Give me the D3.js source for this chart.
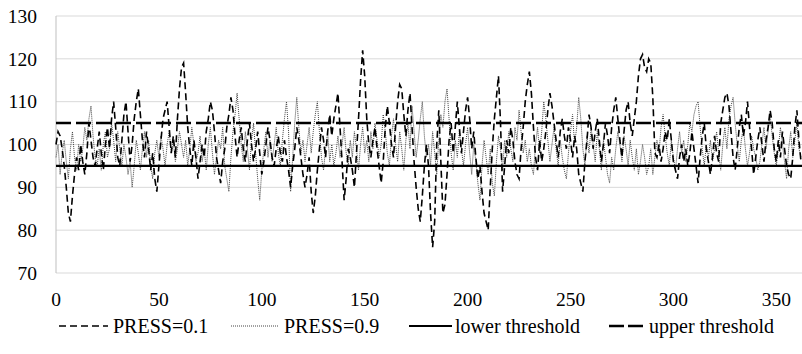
<!DOCTYPE html>
<html>
<head>
<meta charset="utf-8">
<script src="https://cdn.jsdelivr.net/npm/d3@7"></script>
<style>
  body { margin: 0; background: #fff; }
</style>
</head>
<body>
<svg id="chart" width="802" height="354"></svg>
<script>
// PRESS=0.1 (dashed), one value per day
var press01 = [
  100, 103, 102, 99, 95, 90, 84, 82, 88, 93,
  97, 94, 100, 96, 93, 98, 105, 101, 97, 95,
  99, 103, 98, 94, 100, 104, 99, 106, 110, 104,
  97, 95, 101, 107, 110, 103, 96, 100, 106, 110,
  113, 107, 101, 97, 103, 99, 94, 98, 92, 89,
  95, 101, 106, 108, 110, 104, 98, 102, 97, 106,
  113, 118, 119, 112, 104, 99, 95, 101, 97, 92,
  96, 100, 97, 103, 106, 110, 108, 103, 97, 94,
  91, 96, 99, 104, 107, 111, 108, 102, 97, 101,
  104, 99, 96, 101, 105, 100, 96, 99, 103, 98,
  93, 96, 100, 104, 101, 97, 95, 99, 102, 98,
  96, 101, 97, 94, 90, 95, 99, 104, 101, 97,
  93, 90, 93, 97, 89, 84, 88, 94, 99, 104,
  101, 97, 103, 107, 102, 106, 109, 112, 104, 96,
  87, 92, 99, 97, 94, 90, 98, 106, 115, 122,
  116, 106, 100, 97, 101, 104, 99, 95, 91, 96,
  104, 109, 105, 100, 97, 104, 110, 114, 113, 107,
  102, 108, 112, 104, 96, 90, 85, 82, 88, 95,
  100, 95, 84, 76, 82, 100, 108, 96, 84, 86,
  93, 101, 105, 98, 104, 110, 104, 98, 103, 108,
  111, 106, 99, 103, 97, 92, 95, 89, 84, 82,
  80, 90, 99, 106, 111, 116, 105, 89, 95, 101,
  98, 104, 101, 96, 93, 92, 99, 104, 110, 114,
  117, 112, 104, 97, 94, 101, 96, 99, 103, 108,
  112, 109, 105, 101, 97, 103, 106, 102, 99, 104,
  101, 97, 102, 99, 93, 91, 89, 96, 101, 107,
  104, 99, 103, 106, 101, 96, 100, 105, 102, 98,
  104, 108, 111, 106, 101, 97, 103, 108, 110, 105,
  102, 106, 110, 116, 120, 121, 118, 117, 120, 119,
  111, 98, 97, 100, 96, 99, 103, 101, 106, 101,
  96, 94, 92, 97, 100, 96, 99, 95, 98, 103,
  99, 95, 91, 97, 102, 105, 99, 96, 93, 97,
  102, 98, 96, 105, 108, 111, 112, 109, 103, 97,
  94, 99, 104, 107, 102, 105, 110, 104, 99, 93,
  97, 101, 104, 100, 96, 101, 104, 108, 105, 99,
  96, 101, 97, 103, 99, 95, 93, 92, 97, 104,
  108, 101, 96
];
// PRESS=0.9 (dotted)
var press09 = [
  97, 100, 93, 98, 101, 96, 92, 99, 103, 97,
  94, 100, 96, 99, 104, 101, 106, 109, 102, 97,
  95, 99, 94, 100, 103, 97, 99, 105, 101, 96,
  103, 99, 95, 100, 97, 93, 96, 90, 95, 101,
  98, 94, 99, 103, 97, 101, 95, 92, 98, 101,
  97, 102, 99, 95, 100, 103, 98, 101, 96, 99,
  103, 100, 97, 101, 95, 99, 104, 100, 96, 98,
  102, 96, 99, 94, 100, 104, 98, 93, 97, 101,
  99, 104, 95, 92, 89, 97, 103, 107, 112, 106,
  100, 96, 103, 99, 94, 101, 105, 98, 92, 87,
  94, 99, 103, 97, 101, 96, 100, 104, 98, 95,
  101, 106, 110, 103, 89, 97, 105, 111, 104, 98,
  101, 96, 100, 104, 98, 103, 107, 110, 103, 97,
  94, 99, 103, 96, 100, 95, 98, 102, 97, 100,
  104, 98, 95, 101, 97, 103, 99, 94, 100, 104,
  98, 101, 96, 103, 99, 105, 101, 97, 100, 107,
  103, 98, 95, 102, 106, 100, 96, 103, 99, 94,
  101, 105, 99, 109, 103, 97, 101, 106, 110, 102,
  97, 100, 95, 103, 98, 93, 101, 107, 104, 110,
  113, 106, 98, 94, 101, 97, 103, 99, 95, 100,
  104, 98, 93, 100, 96, 91, 87, 95, 101, 97,
  93, 99, 91, 88, 96, 102, 99, 94, 101, 97,
  103, 99, 96, 104, 101, 108, 103, 98, 101, 96,
  99, 95, 93, 100, 104, 98, 103, 110, 106, 101,
  96, 100, 104, 99, 95, 101, 97, 94, 92, 98,
  103, 107, 100, 104, 111, 106, 99, 95, 102, 98,
  104, 100, 96, 103, 99, 94, 101, 97, 93, 91,
  97, 94, 99, 103, 100, 96, 102, 99, 95, 101,
  97, 94, 99, 93, 96, 100, 97, 93, 95, 99,
  93, 97, 101, 98, 104, 107, 102, 98, 95, 101,
  97, 94, 99, 103, 98, 101, 96, 100, 105, 103,
  107, 109, 110, 104, 99, 95, 100, 97, 101, 96,
  99, 103, 98, 94, 100, 104, 99, 106, 109, 111,
  105, 100, 96, 101, 104, 99, 95, 98, 102, 99,
  97, 94, 96, 100, 104, 99, 103, 107, 102, 98,
  95, 99, 104, 100, 96, 92, 99, 103, 97, 101,
  105, 99, 97
];
var lowerThreshold = 95;
var upperThreshold = 105;
var yTicks = [70, 80, 90, 100, 110, 120, 130];
var xTicks = [0, 50, 100, 150, 200, 250, 300, 350];
var legendLabels = ["PRESS=0.1", "PRESS=0.9", "lower threshold", "upper threshold"];

var serif = "'Liberation Serif', 'Times New Roman', 'DejaVu Serif', serif";

var svg = d3.select("#chart");
var x = d3.scaleLinear().domain([0, 362]).range([56, 801]);
var y = d3.scaleLinear().domain([70, 130]).range([273, 16]);

// gridlines
svg.append("g").selectAll("line")
    .data(yTicks)
  .enter().append("line")
    .attr("x1", x(0)).attr("x2", 802)
    .attr("y1", function(d) { return y(d); })
    .attr("y2", function(d) { return y(d); })
    .attr("stroke", "#d9d9d9").attr("stroke-width", 1);

// left axis line
svg.append("line")
    .attr("x1", x(0)).attr("x2", x(0))
    .attr("y1", y(130)).attr("y2", y(70))
    .attr("stroke", "#bfbfbf");

// y tick labels
svg.append("g").selectAll("text")
    .data(yTicks)
  .enter().append("text")
    .attr("x", 37)
    .attr("y", function(d) { return y(d); })
    .attr("dy", "0.35em")
    .attr("text-anchor", "end")
    .attr("font-family", serif)
    .attr("font-size", "19.5px")
    .text(function(d) { return d; });

// x tick labels
svg.append("g").selectAll("text")
    .data(xTicks)
  .enter().append("text")
    .attr("x", function(d) { return x(d); })
    .attr("y", 299)
    .attr("dy", "0.35em")
    .attr("text-anchor", "middle")
    .attr("font-family", serif)
    .attr("font-size", "19.5px")
    .text(function(d) { return d; });

var line = d3.line()
    .x(function(d, i) { return x(i); })
    .y(function(d) { return y(d); });

var plot = svg.append("g");

plot.append("path")
    .datum(press09)
    .attr("d", line)
    .attr("fill", "none")
    .attr("stroke", "#444")
    .attr("stroke-width", 1)
    .attr("stroke-dasharray", "1,1");

plot.append("path")
    .datum(press01)
    .attr("d", line)
    .attr("fill", "none")
    .attr("stroke", "#000")
    .attr("stroke-width", 1.6)
    .attr("stroke-dasharray", "7,4");

plot.append("line")
    .attr("x1", x(0)).attr("x2", 802)
    .attr("y1", y(lowerThreshold)).attr("y2", y(lowerThreshold))
    .attr("stroke", "#000").attr("stroke-width", 2.2);

plot.append("line")
    .attr("x1", x(0)).attr("x2", 802)
    .attr("y1", y(upperThreshold)).attr("y2", y(upperThreshold))
    .attr("stroke", "#000").attr("stroke-width", 2.5)
    .attr("stroke-dasharray", "15,5");

// legend
var legendItems = [
  {sx: 59, ex: 108, tx: 113, dash: "7,4", w: 1.5, color: "#000"},
  {sx: 231, ex: 278, tx: 284, dash: "1,1", w: 1, color: "#444"},
  {sx: 409, ex: 452, tx: 455, dash: null, w: 2.2, color: "#000"},
  {sx: 609, ex: 644, tx: 649, dash: "15,4", w: 2.5, color: "#000"}
];
var legend = svg.append("g");
legendItems.forEach(function(d, i) {
  legend.append("line")
      .attr("x1", d.sx).attr("x2", d.ex)
      .attr("y1", 326).attr("y2", 326)
      .attr("stroke", d.color).attr("stroke-width", d.w)
      .attr("stroke-dasharray", d.dash);
  legend.append("text")
      .attr("x", d.tx).attr("y", 326)
      .attr("dy", "0.35em")
      .attr("font-family", serif)
      .attr("font-size", "20px")
      .text(legendLabels[i]);
});
</script>
</body>
</html>
